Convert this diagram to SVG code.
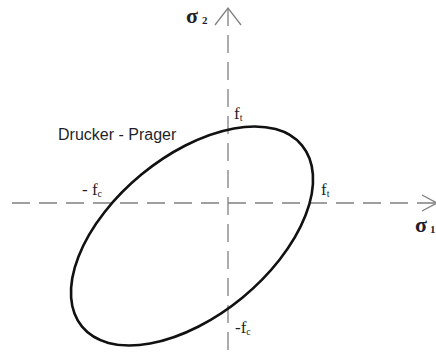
<svg xmlns="http://www.w3.org/2000/svg" width="436" height="356" viewBox="0 0 436 356">
<style>
.axis{stroke:#808080;stroke-width:1.3;fill:none}
.dash{stroke-dasharray:18 9}
.curve{stroke:#111;stroke-width:2.6;fill:none}
.lbl{font-family:"Liberation Serif","Times New Roman",serif;fill:#1f1f2a}
.f{font-size:17px}
.sub{font-size:10px}
.sig{font-size:22px;font-weight:bold}
.ssub{font-size:11px;font-weight:bold}
.name{font-family:"Liberation Sans",Arial,sans-serif;font-size:16px;fill:#1f1f2a}
</style>
<rect width="436" height="356" fill="#fff"/>
<g id="connectors">
<line class="axis dash" x1="12" y1="203" x2="436" y2="203"/>
<polyline class="axis" points="422,195 437,203 422,211"/>
<line class="axis dash" x1="228" y1="350" x2="228" y2="9"/>
<polyline class="axis" points="215,25 228,8 241,25"/>
</g>
<g id="drucker-prager">
<ellipse class="curve" cx="192" cy="236" rx="142.5" ry="79.6" transform="rotate(-39.5 192 236)"/>
<text class="name" x="58" y="140">Drucker - Prager</text>
</g>
<g id="sigma2"><text class="lbl" x="186" y="23"><tspan class="sig">σ</tspan><tspan class="ssub" dx="4" dy="1">2</tspan></text></g>
<g id="sigma1"><text class="lbl" x="415" y="232"><tspan class="sig">σ</tspan><tspan class="ssub" dx="3" dy="1">1</tspan></text></g>
<g id="ft-top"><text class="lbl" x="234" y="119"><tspan class="f">f</tspan><tspan class="sub" dy="2">t</tspan></text></g>
<g id="ft-right"><text class="lbl" x="321" y="195"><tspan class="f">f</tspan><tspan class="sub" dy="2">t</tspan></text></g>
<g id="fc-left"><text class="lbl" x="82" y="195"><tspan class="f">- f</tspan><tspan class="sub" dy="2">c</tspan></text></g>
<g id="fc-bottom"><text class="lbl" x="235" y="333"><tspan class="f">-f</tspan><tspan class="sub" dy="2">c</tspan></text></g>
</svg>
